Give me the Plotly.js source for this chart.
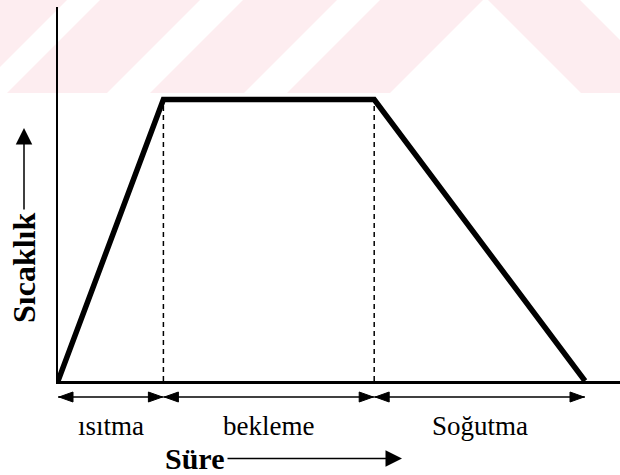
<!DOCTYPE html>
<html>
<head>
<meta charset="utf-8">
<script src="https://cdn.plot.ly/plotly-3.0.1.min.js"></script>
<style>
  html, body { margin: 0; padding: 0; background: #ffffff; }
  #chart { width: 620px; height: 475px; }
</style>
</head>
<body>
<div id="chart"></div>
<script>
// Heat-treatment cycle: temperature against time, three stages.
const phases = ['ısıtma', 'bekleme', 'Soğutma'];
const boundaries = [0, 1, 3, 5];      // stage limits on the time axis
const temperature = [0, 1, 1, 0];     // relative temperature at each limit
const xTitle = 'Süre';
const yTitle = 'Sıcaklık';

// Figure geometry (pixels)
const W = 620, H = 475;
const M = { l: 58, r: 0, t: 7, b: 94 };
const PW = W - M.l - M.r, PH = H - M.t - M.b;
const X_MAX = 5.332, Y_MAX = 1.3286;

// pixel -> paper fraction helpers for decorations placed around the plot
const px = X => (X - M.l) / PW;
const py = Y => (M.t + PH - Y) / PH;

const serif = "'Liberation Serif', serif";
const INK = '#000000';

// faint pink banner across the top
const bannerPolys = [
  [[0, 0], [67, 0], [0, 67]],
  [[100, 0], [200, 0], [107, 93], [7, 93]],
  [[243, 0], [337, 0], [244, 93], [150, 93]],
  [[380, 0], [483, 0], [390, 93], [287, 93]],
  [[488, 0], [580, 0], [620, 40], [620, 93], [581, 93]]
];
const shapes = bannerPolys.map(poly => ({
  type: 'path', xref: 'paper', yref: 'paper', layer: 'below',
  path: 'M' + poly.map(p => px(p[0]).toFixed(5) + ',' + py(p[1]).toFixed(5)).join('L') + 'Z',
  fillcolor: '#fdedf0', line: { width: 0 }
}));

// dashed guides at the inner stage limits
boundaries.slice(1, -1).forEach((b, i) => {
  shapes.push({
    type: 'line', xref: 'x', yref: 'y',
    x0: b, x1: b, y0: 0, y1: temperature[i + 1],
    line: { color: INK, width: 1.5, dash: '5px,4px' }
  });
});

// double-headed stage arrows under the axis
const rowY = py(397);
for (let i = 0; i < phases.length; i++) {
  const a = boundaries[i], b = boundaries[i + 1];
  shapes.push({
    type: 'line', xref: 'x', yref: 'paper',
    x0: a, x1: b, y0: rowY, y1: rowY,
    line: { color: INK, width: 1.5 }
  });
  shapes.push({
    type: 'path', xref: 'x', yref: 'paper',
    xsizemode: 'pixel', ysizemode: 'pixel', xanchor: a, yanchor: rowY,
    path: 'M1,0L15,5L15,-5Z', fillcolor: INK, line: { color: INK, width: 1 }
  });
  shapes.push({
    type: 'path', xref: 'x', yref: 'paper',
    xsizemode: 'pixel', ysizemode: 'pixel', xanchor: b, yanchor: rowY,
    path: 'M-1,0L-15,5L-15,-5Z', fillcolor: INK, line: { color: INK, width: 1 }
  });
}

const annotations = [];

// stage names centred under each stage
phases.forEach((name, i) => {
  annotations.push({
    xref: 'x', yref: 'paper',
    x: (boundaries[i] + boundaries[i + 1]) / 2, y: py(426),
    text: name, showarrow: false,
    xanchor: 'center', yanchor: 'middle',
    font: { family: serif, size: 27, color: INK }
  });
});

// axis names with their direction arrows
annotations.push({
  xref: 'paper', yref: 'paper',
  x: px(402), y: py(458.5), ax: 194.5 - 402, ay: 0,
  text: '<b>' + xTitle + '</b>', showarrow: true,
  arrowhead: 2, arrowsize: 2.2, arrowwidth: 1.5, arrowcolor: INK,
  standoff: 0, startstandoff: 2,
  font: { family: serif, size: 30, color: INK }
});
annotations.push({
  xref: 'paper', yref: 'paper',
  x: px(24), y: py(128), ax: 0, ay: 268 - 128,
  text: '<b>' + yTitle + '</b>', textangle: -90, showarrow: true,
  arrowhead: 2, arrowsize: 2.2, arrowwidth: 1.5, arrowcolor: INK,
  standoff: 0, startstandoff: 2,
  font: { family: serif, size: 32, color: INK }
});

const traces = [
  {
    type: 'scatter', mode: 'lines',
    x: boundaries, y: temperature,
    line: { color: INK, width: 5.5 },
    hoverinfo: 'skip', showlegend: false
  },
  {
    // stage limit ticks below the time axis
    type: 'scatter', mode: 'markers',
    x: boundaries, y: boundaries.map(() => -0.0657),
    marker: { symbol: 'line-ns', size: 19, color: INK, line: { color: INK, width: 1.5 } },
    cliponaxis: false, hoverinfo: 'skip', showlegend: false
  }
];

const layout = {
  width: W, height: H,
  margin: M,
  paper_bgcolor: '#ffffff', plot_bgcolor: 'rgba(0,0,0,0)',
  showlegend: false,
  xaxis: {
    range: [0, X_MAX], autorange: false,
    showline: true, linecolor: INK, linewidth: 2.5,
    showgrid: false, zeroline: false, ticks: '', showticklabels: false
  },
  yaxis: {
    range: [0, Y_MAX], autorange: false,
    showline: true, linecolor: INK, linewidth: 2,
    showgrid: false, zeroline: false, ticks: '', showticklabels: false
  },
  shapes: shapes,
  annotations: annotations
};

Plotly.newPlot('chart', traces, layout, { staticPlot: true, displayModeBar: false });
</script>
</body>
</html>
